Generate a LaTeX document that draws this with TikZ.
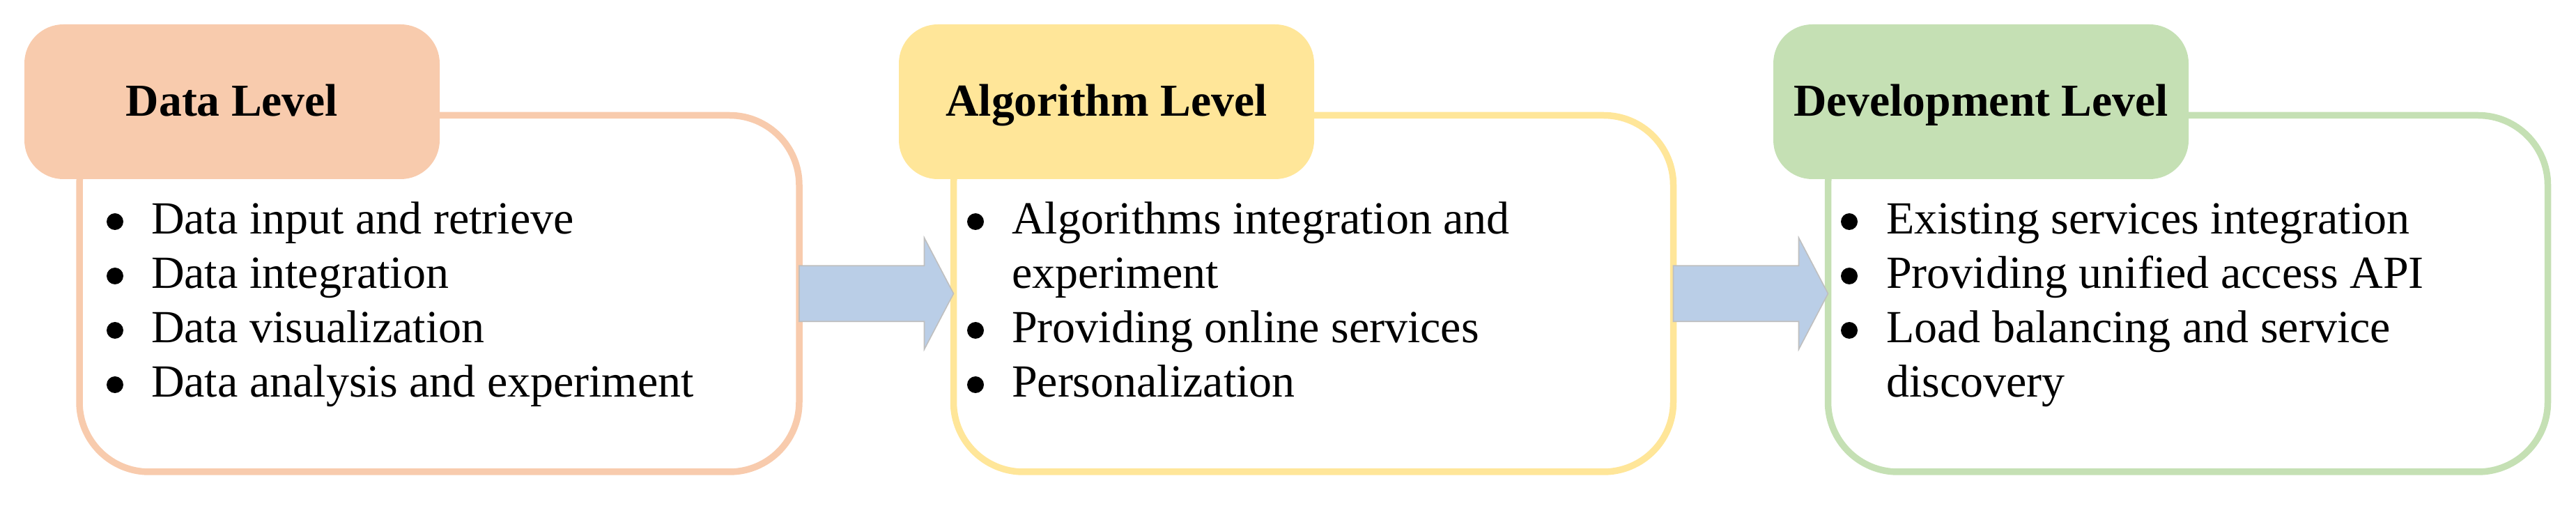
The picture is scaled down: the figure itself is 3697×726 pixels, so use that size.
\documentclass[tikz,border=0pt]{standalone}
\usepackage{fontspec}
\setmainfont{Liberation Serif}
\usetikzlibrary{calc}
\definecolor{cOrange}{HTML}{F8CBAD}
\definecolor{cYellow}{HTML}{FFE699}
\definecolor{cGreen}{HTML}{C5E0B4}
\definecolor{cArrow}{HTML}{BACEE7}
\definecolor{cArrowEdge}{HTML}{BFBFBF}
\newcommand{\itemfont}{\fontsize{16.5pt}{19.5pt}\selectfont}
\newcommand{\titlefont}{\fontsize{16.4pt}{19.5pt}\selectfont\bfseries}
\tikzset{
  bodybox/.style={draw=#1, line width=2.375pt, rounded corners=25pt, fill=white,
    minimum width=258.25pt, minimum height=127.875pt, inner sep=0pt, outer sep=0pt},
  hdrbox/.style={fill=#1, draw=none, rounded corners=14pt,
    minimum width=149pt, minimum height=55.5pt, inner sep=0pt, outer sep=0pt},
  bigarrow/.style={fill=cArrow, draw=cArrowEdge, line width=0.4pt, line join=miter},
  itemtext/.style={anchor=base west, inner sep=0pt, outer sep=0pt, font=\itemfont},
  titletext/.style={anchor=base, inner sep=0pt, outer sep=0pt, font=\titlefont},
  dot/.style={circle, fill=black, draw=none, minimum size=6pt, inner sep=0pt}
}
\begin{document}
\begin{tikzpicture}[x=0.25pt,y=-0.25pt]
\useasboundingbox (0,0) rectangle (3697,726);
% bodies
\node[bodybox=cOrange] (b1) at (630.5,421.25) {};
\node[bodybox=cYellow] (b2) at (1885,421.25) {};
\node[bodybox=cGreen]  (b3) at (3140,421.25) {};
% headers
\node[hdrbox=cOrange] (h1) at (333,146) {};
\node[hdrbox=cYellow] (h2) at (1588,146) {};
\node[hdrbox=cGreen]  (h3) at (2843,146) {};
% titles
\node[titletext] (t1) at (333,167) {Data Level};
\node[titletext] (t2) at (1588,167) {Algorithm Level};
\node[titletext] (t3) at (2843,167) {Development Level};
% arrows
\draw[bigarrow] ($(b1.east)+(0,10pt)$) -- ($(b2.west)+(-10.5pt,10pt)$) -- ($(b2.west)+(-10.5pt,20pt)$)
  -- (b2.west) -- ($(b2.west)+(-10.5pt,-20pt)$) -- ($(b2.west)+(-10.5pt,-10pt)$)
  -- ($(b1.east)+(0,-10pt)$) -- cycle;
\draw[bigarrow] ($(b2.east)+(0,10pt)$) -- ($(b3.west)+(-10.5pt,10pt)$) -- ($(b3.west)+(-10.5pt,20pt)$)
  -- (b3.west) -- ($(b3.west)+(-10.5pt,-20pt)$) -- ($(b3.west)+(-10.5pt,-10pt)$)
  -- ($(b2.east)+(0,-10pt)$) -- cycle;
% box 1 items
\node[dot] (d11) at (165,318) {};
\node[dot] (d12) at (165,396) {};
\node[dot] (d13) at (165,474) {};
\node[dot] (d14) at (165,552) {};
\node[itemtext] (i11) at (217,336) {Data input and retrieve};
\node[itemtext] (i12) at (217,414) {Data integration};
\node[itemtext] (i13) at (217,492) {Data visualization};
\node[itemtext] (i14) at (217,570) {Data analysis and experiment};
% box 2 items
\node[dot] (d21) at (1400,318) {};
\node[dot] (d22) at (1400,474) {};
\node[dot] (d23) at (1400,552) {};
\node[itemtext] (i21) at (1452,336) {Algorithms integration and};
\node[itemtext] (i21b) at (1452,414) {experiment};
\node[itemtext] (i22) at (1452,492) {Providing online services};
\node[itemtext] (i23) at (1452,570) {Personalization};
% box 3 items
\node[dot] (d31) at (2654,318) {};
\node[dot] (d32) at (2654,396) {};
\node[dot] (d33) at (2654,474) {};
\node[itemtext] (i31) at (2707,336) {Existing services integration};
\node[itemtext] (i32) at (2707,414) {Providing unified access API};
\node[itemtext] (i33) at (2707,492) {Load balancing and service};
\node[itemtext] (i33b) at (2707,570) {discovery};
\end{tikzpicture}
\end{document}
